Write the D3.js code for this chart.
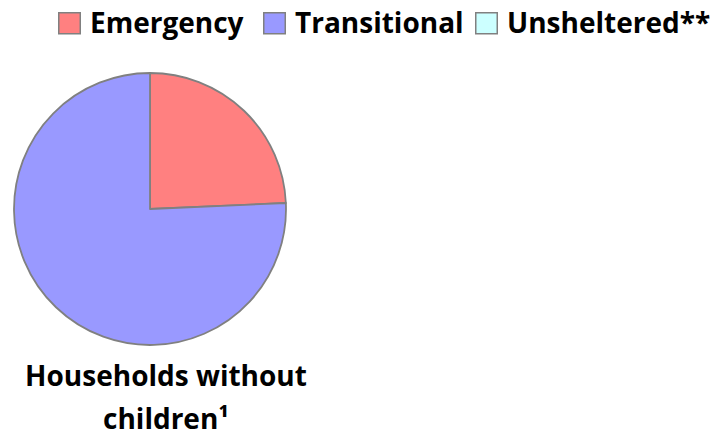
<!DOCTYPE html>
<html>
<head>
<meta charset="utf-8">
<script src="https://cdn.jsdelivr.net/npm/d3@7"></script>
<style>
  body { margin: 0; background: #fff; }
  text { font-family: "Open Sans", Lato, sans-serif; font-weight: bold; fill: #000; }
</style>
</head>
<body>
<div class="chart"></div>
<script>
////////// DATA //////////

var categories = ["Emergency", "Transitional", "Unsheltered**"];
var values = [24.3, 75.7, 0];
var colours = ["#ff8080", "#9999ff", "#ccffff"];
var titleLines = ["Households without", "children\u00b9"];

////////// SETUP //////////

var width = 716, height = 436;

var svg = d3.select(".chart")
  .append("svg")
  .attr("width", width)
  .attr("height", height);

var colour = d3.scaleOrdinal()
  .domain(categories)
  .range(colours);

var data = categories.map(function(c, i) { return { name: c, value: values[i] }; });

////////// PIE //////////

var radius = 136;
var pie = d3.pie()
  .sort(null)
  .value(function(d) { return d.value; });

var arc = d3.arc()
  .innerRadius(0)
  .outerRadius(radius);

var g = svg.append("g")
  .attr("transform", "translate(150,209)");

g.selectAll("path")
  .data(pie(data).filter(function(d) { return d.data.value > 0; }))
  .enter()
  .append("path")
  .attr("d", arc)
  .attr("fill", function(d) { return colour(d.data.name); })
  .attr("stroke", "#808080")
  .attr("stroke-width", 1.8)
  .attr("stroke-linejoin", "round");

////////// TITLE //////////

svg.append("g")
  .selectAll("text")
  .data(titleLines)
  .enter()
  .append("text")
  .attr("x", 166)
  .attr("y", function(d, i) { return 386 + i * 43; })
  .attr("text-anchor", "middle")
  .attr("font-size", 28)
  .text(function(d) { return d; });

////////// LEGEND //////////

var legendX = [58, 263, 475];

var legend = svg.append("g")
  .selectAll("g")
  .data(categories)
  .enter()
  .append("g")
  .attr("transform", function(d, i) { return "translate(" + legendX[i] + ",0)"; });

legend.append("rect")
  .attr("x", 0.75)
  .attr("y", 12.75)
  .attr("width", 21.5)
  .attr("height", 21)
  .attr("fill", function(d) { return colour(d); })
  .attr("stroke", "#808080")
  .attr("stroke-width", 1.5);

legend.append("text")
  .attr("x", 32)
  .attr("y", 33)
  .attr("font-size", 28)
  .text(function(d) { return d; });
</script>
</body>
</html>
